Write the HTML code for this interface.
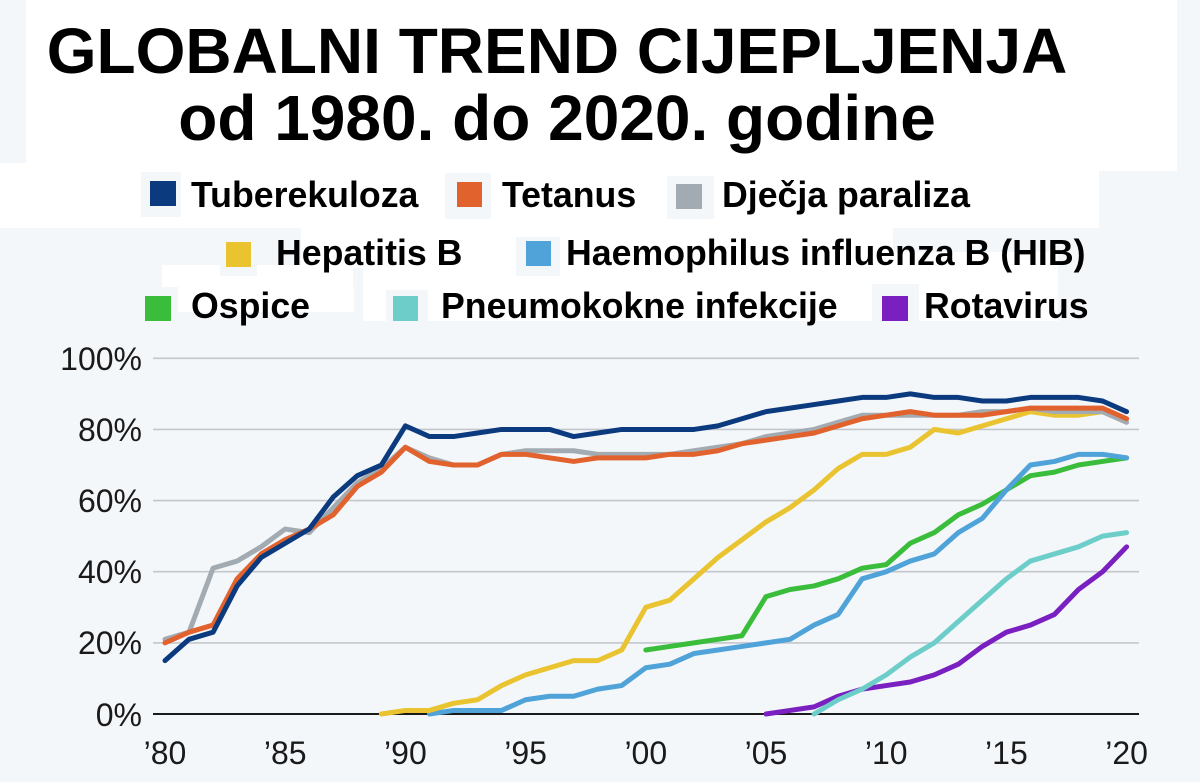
<!DOCTYPE html>
<html><head><meta charset="utf-8">
<style>
html,body{margin:0;padding:0;background:#f4f7fa;}
svg{display:block;}
</style></head>
<body>
<svg width="1200" height="782" viewBox="0 0 1200 782" xmlns="http://www.w3.org/2000/svg">
<rect x="0" y="0" width="1200" height="782" fill="#f4f7fa"/>
<!-- white patches -->
<g fill="#ffffff">
<rect x="26" y="0" width="1151" height="171"/>
<rect x="0" y="163" width="1099" height="65"/>
<rect x="301" y="228" width="592" height="40"/>
<rect x="301" y="252" width="757" height="16"/>
<rect x="363" y="268" width="695" height="53"/>
<rect x="162" y="265" width="191" height="22"/>
<rect x="178" y="287" width="176" height="25"/>
</g>
<g fill="#f4f7fa">
<rect x="141" y="172" width="40" height="45"/>
<rect x="445" y="173" width="46" height="46"/>
<rect x="667" y="176" width="47" height="43"/>
<rect x="516" y="237" width="44" height="39"/>
<rect x="220" y="228" width="37" height="48"/>
<rect x="386" y="290" width="42" height="35"/>
<rect x="872" y="284" width="47" height="41"/>
</g>

<!-- title -->
<g font-family="'Liberation Sans', Arial, sans-serif" font-weight="bold" fill="#000" text-anchor="middle">
<text x="557" y="73" font-size="64">GLOBALNI TREND CIJEPLJENJA</text>
<text x="557" y="140" font-size="64">od 1980. do 2020. godine</text>
</g>

<!-- legend -->
<g font-family="'Liberation Sans', Arial, sans-serif" font-weight="bold" font-size="35.7" fill="#000">
<rect x="150" y="181" width="26" height="25" fill="#0b3a7e"/>
<text x="191" y="207">Tuberekuloza</text>
<rect x="457" y="182" width="25" height="25" fill="#e2622d"/>
<text x="502" y="207">Tetanus</text>
<rect x="676" y="184" width="26" height="25" fill="#a3abb2"/>
<text x="722" y="207">Dječja paraliza</text>

<rect x="226" y="242" width="25" height="25" fill="#e9c430"/>
<text x="276" y="265">Hepatitis B</text>
<rect x="526" y="241" width="25" height="25" fill="#4fa3d9"/>
<text x="566" y="265">Haemophilus influenza B (HIB)</text>

<rect x="145" y="296" width="26" height="25" fill="#3bbd3c"/>
<text x="191" y="318">Ospice</text>
<rect x="393" y="296" width="25" height="25" fill="#6dcec9"/>
<text x="441" y="318">Pneumokokne infekcije</text>
<rect x="882" y="296" width="26" height="25" fill="#7a20c0"/>
<text x="924" y="318">Rotavirus</text>
</g>

<!-- grid -->
<g stroke="#c3c7cb" stroke-width="1.6">
<line x1="153" y1="358.3" x2="1139" y2="358.3"/>
<line x1="153" y1="429.4" x2="1139" y2="429.4"/>
<line x1="153" y1="500.6" x2="1139" y2="500.6"/>
<line x1="153" y1="571.7" x2="1139" y2="571.7"/>
<line x1="153" y1="642.9" x2="1139" y2="642.9"/>
</g>
<line x1="153" y1="714" x2="1139" y2="714" stroke="#1a1a1a" stroke-width="2"/>

<!-- y labels -->
<g font-family="'Liberation Sans', Arial, sans-serif" font-size="32" fill="#1a1a1a" text-anchor="end">
<text x="142" y="370">100%</text>
<text x="142" y="441">80%</text>
<text x="142" y="512">60%</text>
<text x="142" y="583">40%</text>
<text x="142" y="654">20%</text>
<text x="142" y="726">0%</text>
</g>
<!-- x labels -->
<g font-family="'Liberation Sans', Arial, sans-serif" font-size="32" fill="#1a1a1a" text-anchor="middle">
<text x="165" y="764">’80</text>
<text x="285.2" y="764">’85</text>
<text x="405.4" y="764">’90</text>
<text x="525.6" y="764">’95</text>
<text x="645.8" y="764">’00</text>
<text x="766" y="764">’05</text>
<text x="886.2" y="764">’10</text>
<text x="1006.4" y="764">’15</text>
<text x="1126.6" y="764">’20</text>
</g>

<!-- series -->
<g transform="translate(165,714) scale(24.04,-3.557)" fill="none" stroke-width="5" stroke-linejoin="round" stroke-linecap="round">
<polyline vector-effect="non-scaling-stroke" stroke="#7a20c0" points="25,0 26,1 27,2 28,5 29,7 30,8 31,9 32,11 33,14 34,19 35,23 36,25 37,28 38,35 39,40 40,47"/>
<polyline vector-effect="non-scaling-stroke" stroke="#6dcec9" points="27,0 28,4 29,7 30,11 31,16 32,20 33,26 34,32 35,38 36,43 37,45 38,47 39,50 40,51"/>
<polyline vector-effect="non-scaling-stroke" stroke="#3bbd3c" points="20,18 21,19 22,20 23,21 24,22 25,33 26,35 27,36 28,38 29,41 30,42 31,48 32,51 33,56 34,59 35,63 36,67 37,68 38,70 39,71 40,72"/>
<polyline vector-effect="non-scaling-stroke" stroke="#4fa3d9" points="11,0 12,1 13,1 14,1 15,4 16,5 17,5 18,7 19,8 20,13 21,14 22,17 23,18 24,19 25,20 26,21 27,25 28,28 29,38 30,40 31,43 32,45 33,51 34,55 35,63 36,70 37,71 38,73 39,73 40,72"/>
<polyline vector-effect="non-scaling-stroke" stroke="#e9c430" points="9,0 10,1 11,1 12,3 13,4 14,8 15,11 16,13 17,15 18,15 19,18 20,30 21,32 22,38 23,44 24,49 25,54 26,58 27,63 28,69 29,73 30,73 31,75 32,80 33,79 34,81 35,83 36,85 37,84 38,84 39,85 40,83"/>
<polyline vector-effect="non-scaling-stroke" stroke="#a3abb2" points="0,21 1,23 2,41 3,43 4,47 5,52 6,51 7,58 8,65 9,69 10,75 11,72 12,70 13,70 14,73 15,74 16,74 17,74 18,73 19,73 20,73 21,73 22,74 23,75 24,76 25,78 26,79 27,80 28,82 29,84 30,84 31,84 32,84 33,84 34,85 35,85 36,86 37,85 38,85 39,85 40,82"/>
<polyline vector-effect="non-scaling-stroke" stroke="#e2622d" points="0,20 1,23 2,25 3,38 4,45 5,49 6,52 7,56 8,64 9,68 10,75 11,71 12,70 13,70 14,73 15,73 16,72 17,71 18,72 19,72 20,72 21,73 22,73 23,74 24,76 25,77 26,78 27,79 28,81 29,83 30,84 31,85 32,84 33,84 34,84 35,85 36,86 37,86 38,86 39,86 40,83"/>
<polyline vector-effect="non-scaling-stroke" stroke="#0b3a7e" points="0,15 1,21 2,23 3,36 4,44 5,48 6,52 7,61 8,67 9,70 10,81 11,78 12,78 13,79 14,80 15,80 16,80 17,78 18,79 19,80 20,80 21,80 22,80 23,81 24,83 25,85 26,86 27,87 28,88 29,89 30,89 31,90 32,89 33,89 34,88 35,88 36,89 37,89 38,89 39,88 40,85"/>
</g>
</svg>
</body></html>
